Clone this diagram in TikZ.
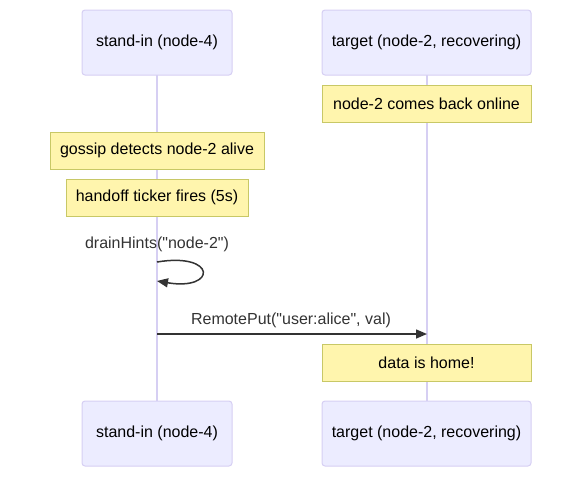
\documentclass[tikz,border=0pt]{standalone}
\usepackage{fontspec}
\setmainfont{Liberation Sans}[Ligatures=TeXOff]
\usetikzlibrary{arrows.meta}
\definecolor{actfill}{HTML}{ECECFF}
\definecolor{actline}{HTML}{D6CFF3}
\definecolor{lifeline}{HTML}{D6CFF3}
\definecolor{notefill}{HTML}{FFF5AD}
\definecolor{noteline}{HTML}{C8C866}
\definecolor{msg}{HTML}{333333}
\tikzset{
  actor/.style={draw=actline, fill=actfill, rounded corners=3pt, line width=1pt, inner sep=0pt, text=black, font=\fontsize{16}{19}\selectfont},
  note/.style={draw=noteline, fill=notefill, line width=1pt, inner sep=0pt, text=black, font=\fontsize{16}{19}\selectfont},
  msgtext/.style={text=msg, inner sep=0pt, font=\fontsize{16}{19}\selectfont},
  life/.style={draw=lifeline, line width=1.5pt},
  msgline/.style={draw=msg, line width=1.5pt, -{Triangle[length=11pt,width=9pt]}}
}
\begin{document}
\begin{tikzpicture}[x=1pt,y=-1pt]
\useasboundingbox (0,0) rectangle (581,477);
% lifelines
\coordinate (l1) at (157,75);
\coordinate (l2) at (157,401);
\coordinate (r1) at (427,75);
\coordinate (r2) at (427,401);
\draw[life] (l1) -- (l2);
\draw[life] (r1) -- (r2);
% actors
\node[actor, minimum width=150pt, minimum height=65pt] (at) at (157,42.5) {stand-in (node-4)};
\node[actor, minimum width=209pt, minimum height=65pt] (bt) at (426.5,42.5) {target (node-2, recovering)};
\node[actor, minimum width=150pt, minimum height=65pt] (ab) at (157,433.5) {stand-in (node-4)};
\node[actor, minimum width=209pt, minimum height=65pt] (bb) at (426.5,433.5) {target (node-2, recovering)};
% notes
\node[note, minimum width=209pt, minimum height=37pt] (n1) at (426.5,103.5) {node-2 comes back online};
\node[note, minimum width=214pt, minimum height=37pt] (n2) at (157,150.5) {gossip detects node-2 alive};
\node[note, minimum width=182pt, minimum height=37pt] (n3) at (157,197.5) {handoff ticker fires (5s)};
% self message
\node[msgtext] (m1) at (157,244) {drainHints("node-2")};
\coordinate (s1) at (157,262);
\coordinate (s2) at (157,281);
\draw[msgline] (s1) .. controls (217,252) and (217,291) .. (s2);
% remote put
\node[msgtext] (m2) at (291,320) {RemotePut("user:alice", val)};
\coordinate (p1) at (157,334);
\coordinate (p2) at (427,334);
\draw[msgline] (p1) -- (p2);
\node[note, minimum width=209pt, minimum height=37pt] (n4) at (426.5,362.5) {data is home!};
\end{tikzpicture}
\end{document}
